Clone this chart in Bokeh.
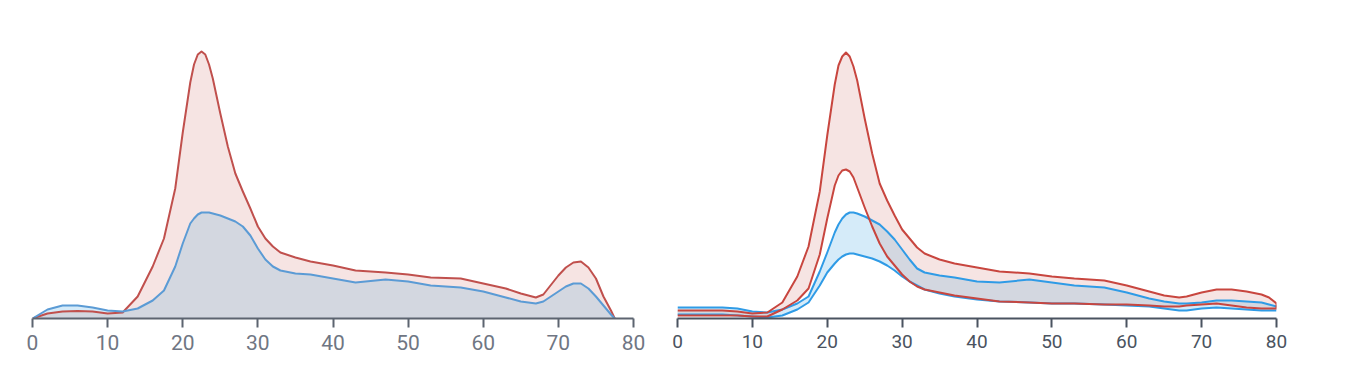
import numpy as np
from bokeh.plotting import figure
from bokeh.layouts import row
from bokeh.models import Range1d, FixedTicker
from bokeh.embed import file_html
from bokeh.resources import INLINE

# ---------------- data ----------------
ticks = [0, 10, 20, 30, 40, 50, 60, 70, 80]

# left panel: two densities (arbitrary units)
left_x = [0, 2, 4, 6, 8, 10, 12, 14, 16, 17.5, 19, 20, 21, 21.5, 22, 22.5, 23, 23.5, 24, 25,
          26, 27, 28, 29, 30, 31, 32, 33, 35, 37, 40, 43, 47, 50, 53, 57, 60, 63, 65, 67, 68,
          70, 71, 72, 73, 74, 75, 76, 77, 77.5]
left_red = [0, 5, 7, 7.5, 7, 5, 6, 22, 52, 80, 130, 186, 236, 254, 264, 267, 264, 254, 240,
            205, 172, 145, 127, 110, 92, 80, 72, 66, 61, 57, 53, 48, 46, 44, 41, 40, 35, 30,
            25, 21, 24, 43, 51, 56, 57, 51, 40, 22, 8, 0]
left_blue = [0, 9, 13, 13, 11, 8, 7, 10, 18, 28, 52, 75, 95, 100, 104, 106, 106, 106, 105,
             103, 100, 97, 92, 83, 70, 59, 52, 48, 45, 44, 40, 36, 39, 37, 33, 31, 27, 21, 17,
             15, 17, 27, 32, 35, 35, 30, 22, 13, 4, 0]

# right panel: two bands (lower / upper)
right_x = [0, 2, 4, 6, 8, 10, 12, 14, 16, 17.5, 19, 20, 21, 21.5, 22, 22.5, 23, 23.5, 24, 25,
           26, 27, 28, 29, 30, 31, 32, 33, 35, 37, 40, 43, 47, 50, 53, 57, 60, 63, 65, 67, 68,
           70, 72, 74, 76, 78, 79, 80]
red_upper = [8, 8, 8, 8, 7, 5, 6, 16, 42, 72, 127, 183, 234, 253, 262, 266, 262, 252, 238,
             200, 165, 135, 118, 103, 89, 80, 71, 65, 59, 55, 51, 47, 45, 42, 40, 38, 33, 27,
             23, 21, 22, 26, 29, 29, 27, 24, 21, 15]
red_lower = [3, 3, 3, 3, 3, 2, 2, 9, 18, 30, 64, 100, 133, 143, 148, 149, 147, 141, 131, 111,
             92, 75, 62, 53, 44, 37, 32, 29, 26, 23, 20, 17, 16, 15, 15, 14, 14, 13, 12, 12, 13,
             14, 15, 13, 11, 10, 10, 10]
blue_upper = [11, 11, 11, 11, 10, 7, 6, 9, 15, 22, 47, 66, 86, 94, 100, 104, 106, 106, 105,
              102, 98, 94, 87, 79, 69, 59, 50, 46, 43, 41, 37, 36, 39, 36, 33, 31, 26, 20, 17,
              15, 15, 16, 18, 18, 17, 16, 14, 12]
blue_lower = [4, 4, 4, 4, 3, 2, 1, 3, 9, 16, 33, 46, 55, 59, 62, 64, 65, 65, 64, 62, 60, 57,
              53, 48, 42, 37, 33, 29, 25, 22, 19, 17, 16, 15, 15, 14, 13, 12, 10, 8, 8, 10, 11,
              10, 9, 8, 8, 8]

# ---------------- styles ----------------
PINK = "#f6e4e3"
GRAY = "#d3d7e0"
LBLUE = "#d5ebf9"
FONT = "Roboto"


def base_fig(width, left, right, axis_col, label_col, label_size):
    p = figure(width=width, height=368, x_range=Range1d(0, 80), y_range=Range1d(0, 288),
               output_backend="svg", toolbar_location=None, y_axis_location=None,
               min_border_left=left, min_border_right=right, min_border_top=30,
               min_border_bottom=50)
    p.xgrid.visible = False
    p.ygrid.visible = False
    p.outline_line_color = None
    ax = p.xaxis[0]
    ax.ticker = FixedTicker(ticks=ticks)
    ax.axis_line_color = axis_col
    ax.axis_line_width = 2
    ax.major_tick_line_color = axis_col
    ax.major_tick_line_width = 2
    ax.major_tick_in = 0
    ax.major_tick_out = 9
    ax.minor_tick_line_color = None
    ax.major_label_text_color = label_col
    ax.major_label_text_font = FONT
    ax.major_label_text_font_size = label_size
    ax.major_label_standoff = 7
    return p


# left panel
lx = np.array(left_x, dtype=float)
lr = np.array(left_red, dtype=float)
lb = np.array(left_blue, dtype=float)
p1 = base_fig(653, 32, 20, "#5d6470", "#6f7683", "21px")
zero = np.zeros_like(lx)
p1.varea(x=lx, y1=zero, y2=lr, fill_color=PINK)
p1.varea(x=lx, y1=zero, y2=lb, fill_color=LBLUE)
p1.varea(x=lx, y1=zero, y2=np.minimum(lr, lb), fill_color=GRAY)
p1.line(lx, lr, line_color="#c0504d", line_width=2, line_join="round")
p1.line(lx, lb, line_color="#5b9bd5", line_width=2, line_join="round")

# right panel
rx = np.array(right_x, dtype=float)
ru = np.array(red_upper, dtype=float)
rl = np.array(red_lower, dtype=float)
bu = np.array(blue_upper, dtype=float)
bl = np.array(blue_lower, dtype=float)
p2 = base_fig(653, 24, 30, "#4a5360", "#4a5360", "19px")
p2.varea(x=rx, y1=rl, y2=ru, fill_color=PINK)
p2.varea(x=rx, y1=bl, y2=bu, fill_color=LBLUE)
lo = np.maximum(rl, bl)
hi = np.minimum(ru, bu)
hi = np.maximum(hi, lo)
p2.varea(x=rx, y1=lo, y2=hi, fill_color=GRAY)
p2.line(rx, bu, line_color="#2f9be6", line_width=2, line_join="round")
p2.line(rx, bl, line_color="#2f9be6", line_width=2, line_join="round")
p2.line(np.concatenate([rx, rx[::-1]]), np.concatenate([ru, rl[::-1]]),
        line_color="#c8463f", line_width=2, line_join="round")

layout = row(p1, p2)
open("out.html", "w").write(file_html(layout, INLINE))
